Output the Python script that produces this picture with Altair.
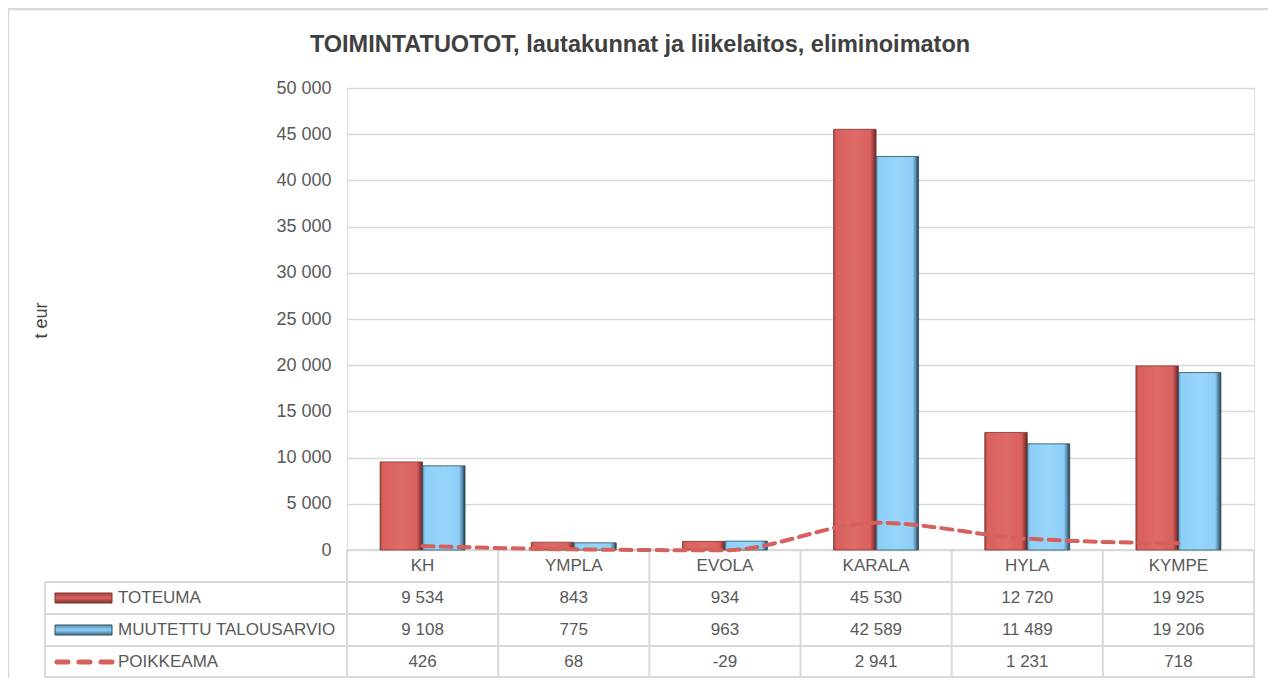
import altair as alt
import pandas as pd

categories = ["KH", "YMPLA", "EVOLA", "KARALA", "HYLA", "KYMPE"]
toteuma = [9534, 843, 934, 45530, 12720, 19925]
muutettu = [9108, 775, 963, 42589, 11489, 19206]
poikkeama = [426, 68, -29, 2941, 1231, 718]
series_names = ["TOTEUMA", "MUUTETTU TALOUSARVIO", "POIKKEAMA"]
y_ticks = [0, 5000, 10000, 15000, 20000, 25000, 30000, 35000, 40000, 45000, 50000]

title_text = "TOIMINTATUOTOT, lautakunnat ja liikelaitos, eliminoimaton"
FONT = "Liberation Sans, sans-serif"
RED = "#D9605D"
RED_DARK = "#7E3331"
BLUE = "#8DCFF8"
BLUE_DARK = "#2F4F63"
GRID = "#D9D9D9"
TXT = "#595959"
LINE_RED = "#D5605C"

W, H = 907, 462


def fmt(v):
    s = f"{abs(v):,}".replace(",", " ")
    return ("-" if v < 0 else "") + s


def grad(light, main, dark, darkest):
    return alt.LinearGradient(
        gradient="linear", x1=0, x2=1, y1=0, y2=0,
        stops=[
            alt.GradientStop(offset=0, color=dark),
            alt.GradientStop(offset=0.06, color=main),
            alt.GradientStop(offset=0.5, color=light),
            alt.GradientStop(offset=0.86, color=main),
            alt.GradientStop(offset=0.93, color=dark),
            alt.GradientStop(offset=1, color=darkest),
        ],
    )


RED_GRAD = grad("#DE6B68", RED, "#A44442", "#5A2321")
BLUE_GRAD = grad("#97D5FA", BLUE, "#5C8FAE", "#22394A")

bars_df = pd.DataFrame(
    [{"cat": c, "series": series_names[0], "value": v, "ord": 0} for c, v in zip(categories, toteuma)]
    + [{"cat": c, "series": series_names[1], "value": v, "ord": 1} for c, v in zip(categories, muutettu)]
)
line_df = pd.DataFrame({"cat": categories, "value": poikkeama})
table_df = pd.DataFrame({
    "cat": categories,
    "t1": [fmt(v) for v in toteuma],
    "t2": [fmt(v) for v in muutettu],
    "t3": [fmt(v) for v in poikkeama],
})
one = pd.DataFrame({"a": [0]})

xscale = alt.Scale(domain=categories, paddingInner=0.438, paddingOuter=0.219)
yscale = alt.Scale(domain=[0, 50000], nice=False)
x_enc = alt.X("cat:N", scale=xscale, axis=None, sort=categories)
xoff = alt.XOffset("ord:O", scale=alt.Scale(domain=[0, 1], paddingInner=0, paddingOuter=0))
y_axis = alt.Axis(values=y_ticks, labelExpr="replace(format(datum.value, ','), ',', ' ')",
                  title="t eur", titleX=-297, titleY=232, titleAngle=-90,
                  titleFontSize=18, titleFont=FONT, titleColor="#404040", titleFontWeight="normal",
                  labelPadding=16, ticks=False, domain=False, gridColor=GRID, gridWidth=1.5)

bars_red = alt.Chart(bars_df).transform_filter(alt.datum.ord == 0).mark_bar(
    color=RED_GRAD, stroke=RED_DARK, strokeWidth=0.8).encode(
    x=x_enc, xOffset=xoff, y=alt.Y("value:Q", scale=yscale, axis=y_axis))
bars_blue = alt.Chart(bars_df).transform_filter(alt.datum.ord == 1).mark_bar(
    color=BLUE_GRAD, stroke=BLUE_DARK, strokeWidth=0.8).encode(
    x=x_enc, xOffset=xoff, y=alt.Y("value:Q", scale=yscale, axis=y_axis))

line = alt.Chart(line_df).mark_line(
    color=LINE_RED, strokeWidth=4, strokeDash=[11, 7], strokeCap="round", interpolate="monotone"
).encode(x=x_enc, y=alt.Y("value:Q", scale=yscale, axis=y_axis))

# table rows
row_y = [478, 510, 542, 574]
FS = 17
header = alt.Chart(table_df).mark_text(font=FONT, fontSize=FS, color=TXT).encode(
    x=x_enc, y=alt.value(row_y[0]), text="cat:N")
r1 = alt.Chart(table_df).mark_text(font=FONT, fontSize=FS, color=TXT).encode(
    x=x_enc, y=alt.value(row_y[1]), text="t1:N")
r2 = alt.Chart(table_df).mark_text(font=FONT, fontSize=FS, color=TXT).encode(
    x=x_enc, y=alt.value(row_y[2]), text="t2:N")
r3 = alt.Chart(table_df).mark_text(font=FONT, fontSize=FS, color=TXT).encode(
    x=x_enc, y=alt.value(row_y[3]), text="t3:N")

# table grid (decoration)
LEFT = -302
grid_layers = []
hlines = [(0, 462), (LEFT, 494), (LEFT, 526), (LEFT, 558), (LEFT, 589)]
for x0, yy in hlines:
    grid_layers.append(alt.Chart(one).mark_rule(color=GRID, strokeWidth=2).encode(
        x=alt.value(x0), x2=alt.value(W), y=alt.value(yy)))
step = W / 6
for i in range(7):
    grid_layers.append(alt.Chart(one).mark_rule(color=GRID, strokeWidth=2).encode(
        x=alt.value(i * step), y=alt.value(462), y2=alt.value(590)))
grid_layers.append(alt.Chart(one).mark_rule(color=GRID, strokeWidth=2).encode(
    x=alt.value(LEFT), y=alt.value(494), y2=alt.value(590)))

# legend column
leg_layers = []
leg_text_x = -229
for name, yy in zip(series_names, row_y[1:]):
    leg_layers.append(alt.Chart(one).mark_text(font=FONT, fontSize=FS, color=TXT, align="left").encode(
        x=alt.value(leg_text_x), y=alt.value(yy), text=alt.value(name)))
leg_layers.append(alt.Chart(one).mark_rect(
    color=alt.LinearGradient(gradient="linear", x1=0, x2=0, y1=0, y2=1,
                             stops=[alt.GradientStop(offset=0, color="#A44442"),
                                    alt.GradientStop(offset=0.5, color=RED),
                                    alt.GradientStop(offset=1, color="#7E3331")]),
    stroke=RED_DARK, strokeWidth=1).encode(
    x=alt.value(-292), x2=alt.value(-235), y=alt.value(row_y[1] - 5), y2=alt.value(row_y[1] + 5)))
leg_layers.append(alt.Chart(one).mark_rect(
    color=alt.LinearGradient(gradient="linear", x1=0, x2=0, y1=0, y2=1,
                             stops=[alt.GradientStop(offset=0, color="#5C8FAE"),
                                    alt.GradientStop(offset=0.5, color=BLUE),
                                    alt.GradientStop(offset=1, color="#3F6A85")]),
    stroke=BLUE_DARK, strokeWidth=1).encode(
    x=alt.value(-292), x2=alt.value(-235), y=alt.value(row_y[2] - 5), y2=alt.value(row_y[2] + 5)))
leg_layers.append(alt.Chart(one).mark_rule(color=LINE_RED, strokeWidth=5, strokeDash=[11, 11], strokeCap="round").encode(
    x=alt.value(-290), x2=alt.value(-232), y=alt.value(row_y[3])))

# outer frame (decoration)
frame = [
    alt.Chart(one).mark_rule(color=GRID, strokeWidth=2.5).encode(
        x=alt.value(-339), y=alt.value(-79), y2=alt.value(600)),
    alt.Chart(one).mark_rule(color=GRID, strokeWidth=2.5).encode(
        x=alt.value(-339), x2=alt.value(W + 20), y=alt.value(-79)),
]

title = alt.Chart(one).mark_text(font=FONT, fontSize=23.5, fontWeight="bold", color="#404040").encode(
    x=alt.value(293), y=alt.value(-43), text=alt.value(title_text))

chart = alt.layer(
    *grid_layers, bars_red, bars_blue, line, header, r1, r2, r3, *leg_layers, *frame, title
).properties(
    width=W, height=H,
    padding={"left": 339, "top": 80, "right": 14, "bottom": 128},
    autosize=alt.AutoSizeParams(type="none"),
).configure_view(stroke=None).configure(background="white").configure_axisY(
    labelFont=FONT, labelFontSize=18, labelColor=TXT,
    titleFont=FONT, titleFontSize=18, titleFontWeight="normal", titleColor="#404040",
)

chart.save("out.html", embed_options={"renderer": "svg", "actions": False})
